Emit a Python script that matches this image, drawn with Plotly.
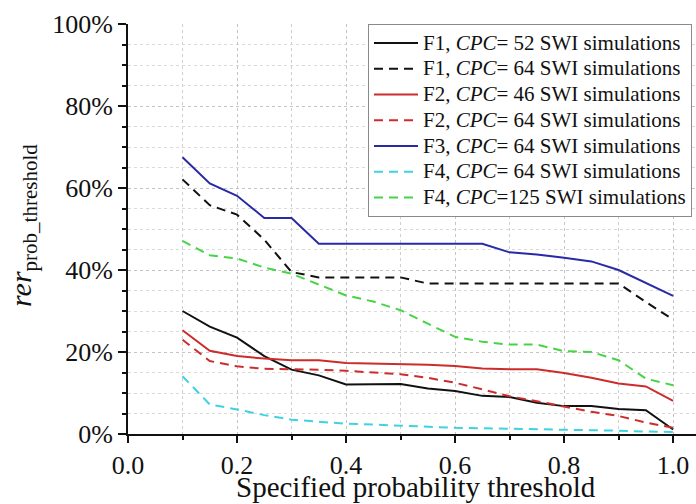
import plotly.graph_objects as go

x_threshold = [0.10, 0.15, 0.20, 0.25, 0.30, 0.35, 0.40, 0.45, 0.50, 0.55,
               0.60, 0.65, 0.70, 0.75, 0.80, 0.85, 0.90, 0.95, 1.00]

f1_cpc52 = [30.0, 26.2, 23.5, 19.0, 15.7, 14.3, 12.1, 12.1, 12.2, 11.1,
            10.5, 9.3, 9.0, 7.6, 6.8, 6.8, 6.1, 5.8, 1.1]
f1_cpc64 = [62.1, 55.8, 53.5, 47.4, 39.5, 38.2, 38.2, 38.2, 38.2, 36.7,
            36.7, 36.7, 36.7, 36.7, 36.7, 36.7, 36.7, 32.2, 27.9]
f2_cpc46 = [25.3, 20.3, 19.0, 18.4, 18.0, 18.0, 17.3, 17.2, 17.1, 16.9,
            16.6, 16.0, 15.8, 15.8, 14.9, 13.7, 12.3, 11.6, 8.1]
f2_cpc64 = [23.0, 17.8, 16.5, 15.9, 15.8, 15.7, 15.4, 15.0, 14.6, 13.7,
            12.5, 10.9, 9.2, 8.0, 6.7, 5.4, 4.4, 2.8, 1.5]
f3_cpc64 = [67.5, 61.1, 58.1, 52.7, 52.7, 46.4, 46.4, 46.4, 46.4, 46.4,
            46.4, 46.4, 44.3, 43.8, 43.0, 42.1, 40.0, 36.8, 33.7]
f4_cpc64 = [14.1, 7.2, 6.0, 4.6, 3.5, 3.0, 2.5, 2.3, 2.0, 1.8,
            1.5, 1.4, 1.3, 1.2, 1.1, 1.0, 0.8, 0.6, 0.5]
f4_cpc125 = [47.1, 43.6, 42.8, 40.6, 39.1, 36.5, 33.8, 32.3, 30.2, 26.9,
             23.7, 22.5, 21.8, 21.8, 20.2, 20.0, 18.0, 13.5, 11.9]

series_names = [
    "F1, <i>CPC</i>= 52 SWI simulations",
    "F1, <i>CPC</i>= 64 SWI simulations",
    "F2, <i>CPC</i>= 46 SWI simulations",
    "F2, <i>CPC</i>= 64 SWI simulations",
    "F3, <i>CPC</i>= 64 SWI simulations",
    "F4, <i>CPC</i>= 64 SWI simulations",
    "F4, <i>CPC</i>=125 SWI simulations",
]
series_values = [f1_cpc52, f1_cpc64, f2_cpc46, f2_cpc64, f3_cpc64, f4_cpc64, f4_cpc125]
series_colors = ["#111111", "#111111", "#cc2c2c", "#cc2c2c", "#2a2aa6", "#3ed3e0", "#46d446"]
series_dash = ["solid", "9px,6px", "solid", "9px,6px", "solid", "9px,6px", "9px,6px"]

x_tickvals = [0.0, 0.2, 0.4, 0.6, 0.8, 1.0]
x_ticktext = ["0.0", "0.2", "0.4", "0.6", "0.8", "1.0"]
y_tickvals = [0, 20, 40, 60, 80, 100]
y_ticktext = ["0%", "20%", "40%", "60%", "80%", "100%"]

x_title = "Specified probability threshold"
y_title = "<i>rer</i><sub>prob_threshold</sub>"

FONT = "Liberation Serif"
INK = "#111111"

fig = go.Figure()
for name, vals, col, dash in zip(series_names, series_values, series_colors, series_dash):
    fig.add_trace(go.Scatter(
        x=x_threshold, y=vals, mode="lines",
        name='<span style="font-size:21px">' + name + "</span>",
        line=dict(color=col, width=2, dash=dash),
    ))

W, H = 696, 504
ML, MR, MT, MB = 128, 0, 24, 70
PW, PH = W - ML - MR, H - MT - MB

fig.update_layout(
    width=W, height=H,
    margin=dict(l=ML, r=MR, t=MT, b=MB, autoexpand=False),
    paper_bgcolor="white", plot_bgcolor="white",
    font=dict(family=FONT, color=INK),
    showlegend=True,
    legend=dict(
        x=(368 - ML) / PW, y=1.0, xanchor="left", yanchor="top",
        bgcolor="white", bordercolor="#8a8a8a", borderwidth=1,
        font=dict(family=FONT, size=17.5, color=INK),
        tracegroupgap=0, itemwidth=44,
    ),
    annotations=[
        dict(text=x_title, xref="paper", yref="paper",
             x=(416 - ML) / PW, y=-(487 - (MT + PH)) / PH,
             xanchor="center", yanchor="middle", showarrow=False,
             font=dict(family=FONT, size=29, color=INK)),
        dict(text=y_title, xref="paper", yref="paper",
             x=(23 - ML) / PW, y=(MT + PH - 226) / PH,
             xanchor="center", yanchor="middle", showarrow=False, textangle=-90,
             font=dict(family=FONT, size=30, color=INK)),
    ],
)

fig.update_xaxes(
    range=[0, 1.042],
    tickvals=x_tickvals, ticktext=x_ticktext,
    ticks="outside", ticklen=7, tickwidth=2, tickcolor=INK,
    showline=True, linecolor=INK, linewidth=2,
    showgrid=True, gridcolor="#c4c4c4", griddash="dot", gridwidth=1,
    minor=dict(dtick=0.1, tick0=0, ticks="outside", ticklen=4, tickwidth=2,
               tickcolor=INK, showgrid=True, gridcolor="#cfcfcf",
               griddash="dot", gridwidth=1),
    tickfont=dict(family=FONT, size=26, color=INK),
    zeroline=False,
)

fig.update_yaxes(
    range=[0, 100],
    tickvals=y_tickvals, ticktext=y_ticktext,
    ticks="outside", ticklen=8, tickwidth=2, tickcolor=INK,
    showline=True, linecolor=INK, linewidth=2,
    showgrid=True, gridcolor="#c4c4c4", griddash="dot", gridwidth=1,
    minor=dict(dtick=5, tick0=0, ticks="outside", ticklen=4, tickwidth=2,
               tickcolor=INK, showgrid=True, gridcolor="#dadada",
               griddash="dot", gridwidth=1),
    tickfont=dict(family=FONT, size=26, color=INK),
    zeroline=False,
)

fig.write_html(
    "out.html",
    config={"displayModeBar": False},
    post_script="document.body.style.margin='0';document.body.style.overflow='hidden';",
)
